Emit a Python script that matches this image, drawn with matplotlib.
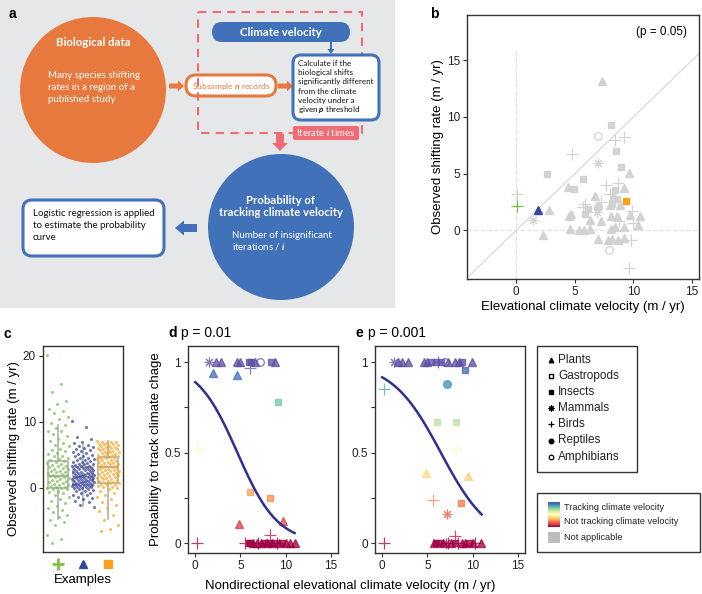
import numpy as np
import matplotlib.pyplot as plt
from matplotlib.patches import Rectangle, Circle, FancyBboxPatch, FancyArrow

plt.rcParams['font.family'] = ['Liberation Sans', 'DejaVu Sans']
plt.rcParams['mathtext.fontset'] = 'custom'
plt.rcParams['mathtext.rm'] = 'Lato'
plt.rcParams['mathtext.bf'] = 'Lato:italic:bold'

W, H = 702, 594

# ---------------- data ----------------
shape_codes = ['P', 'G', 'I', 'M', 'B', 'R', 'A']
shape_names = ['Plants', 'Gastropods', 'Insects', 'Mammals', 'Birds', 'Reptiles', 'Amphibians']

# panel b : grey points (observed vs climate velocity)
b_x = [7.3, 8.1, 7.0, 8.4, 9.2, 8.5, 4.8, 7.0, 8.95, 2.6, 9.6, 5.7, 7.7, 8.7, 4.4, 4.9,
       9.2, 8.45, 0.05, 8.0, 6.7, 8.3, 8.6, 8.0, 8.9, 5.9, 5.7, 7.0, 2.8, 4.7, 4.5, 5.9,
       6.3, 7.2, 8.07, 8.6, 9.7, 9.9, 10.6, 10.4, 9.95, 4.6, 5.4, 5.8, 6.3, 8.1, 8.45,
       9.2, 8.8, 7.0, 7.8, 8.15, 8.7, 9.2, 9.8, 2.3, 1.4, 7.95, 9.6, 6.9, 8.2, 7.2, 6.1]
b_y = [13.2, 9.3, 8.35, 8.0, 8.2, 7.0, 6.7, 5.9, 5.6, 5.0, 5.05, 4.5, 3.97, 4.2, 3.8, 3.6,
       3.7, 3.55, 3.2, 3.2, 3.0, 2.9, 2.8, 2.2, 2.2, 2.35, 2.06, 2.06, 1.76, 1.47, 1.24, 1.4,
       0.88, 0.82, 1.3, 1.24, 1.39, 1.7, 1.3, 0.44, 0.65, 0.15, 0.02, 0.05, 0.15, 0.15, 0.26,
       0.26, 0.8, -0.8, -0.9, -0.8, -0.9, -0.7, -0.9, -0.45, 0.94, -1.7, -3.3, 1.6, 2.35, 2.5, 1.9]
b_kind = ['P', 'I', 'A', 'B', 'B', 'I', 'B', 'M', 'I', 'I', 'P', 'I', 'B', 'B', 'P', 'I',
          'P', 'I', 'B', 'B', 'P', 'P', 'I', 'P', 'P', 'B', 'B', 'R', 'P', 'P', 'P', 'I',
          'P', 'P', 'P', 'P', 'P', 'B', 'P', 'P', 'B', 'P', 'P', 'P', 'P', 'P', 'P',
          'P', 'B', 'P', 'P', 'P', 'P', 'P', 'B', 'P', 'M', 'A', 'B', 'M', 'I', 'B', 'I']
ex_x = [0.1, 1.9, 9.4]
ex_y = [2.1, 1.78, 2.6]
ex_kind = ['B', 'P', 'I']
ex_colors = ['#7cc242', '#3547a0', '#f9a11b']

# panel c : shifting rates of the three examples
c_green = [20.2, 15.8, 14.5, 13.2, 12.7, 11.9, 11.6, 11.3, 10.8, 10.4, 9.9, 9.5, 9.1, 8.7, 8.6,
           8.2, 7.9, 7.4, 7.1, 6.8, 6.5, 6.3, 5.9, 5.7, 5.6, 5.3, 5.1, 4.9, 4.8, 4.6, 4.4, 4.3,
           4.1, 3.9, 3.8, 3.7, 3.5, 3.4, 3.3, 3.1, 3.0, 2.9, 2.8, 2.6, 2.5, 2.4, 2.35, 2.2, 2.1,
           2.0, 1.9, 1.85, 1.8, 1.7, 1.6, 1.5, 1.4, 1.2, 1.1, 1.0, 0.9, 0.8, 0.6, 0.5, 0.4, 0.3,
           0.2, 0.1, 0.05, 0.0, -0.1, -0.2, -0.4, -0.6, -0.8, -1.1, -1.4, -1.7, -2.0, -2.3,
           -2.7, -3.0, -3.3, -3.7, -4.1, -4.4, -4.8, -5.2, -5.6, -7.2, -7.7, -8.3]
c_blue = [10.1, 9.3, 7.7, 7.4, 7.0, 6.8, 6.5, 6.3, 6.2, 6.0, 5.9, 5.7, 5.6, 5.4, 5.3, 5.1, 5.0,
          4.9, 4.8, 4.6, 4.5, 4.4, 4.3, 4.2, 4.1, 4.0, 3.9, 3.8, 3.7, 3.65, 3.6, 3.5, 3.4, 3.3,
          3.25, 3.2, 3.1, 3.05, 3.0, 2.9, 2.85, 2.8, 2.7, 2.65, 2.6, 2.5, 2.45, 2.4, 2.3, 2.25,
          2.2, 2.15, 2.1, 2.05, 2.0, 1.95, 1.9, 1.85, 1.8, 1.75, 1.7, 1.65, 1.6, 1.55, 1.5,
          1.45, 1.4, 1.35, 1.3, 1.25, 1.2, 1.15, 1.1, 1.05, 1.0, 0.95, 0.9, 0.85, 0.8, 0.75,
          0.7, 0.65, 0.6, 0.55, 0.5, 0.45, 0.4, 0.35, 0.3, 0.25, 0.2, 0.15, 0.1, 0.05, 0.0,
          -0.1, -0.2, -0.3, -0.4, -0.5, -0.7, -0.8, -1.0, -1.1, -1.3, -1.5, -1.7, -1.9, -2.2,
          -2.6, -2.9]
c_orange = [7.1, 7.0, 6.95, 6.9, 6.8, 6.7, 6.65, 6.6, 6.5, 6.4, 6.3, 6.25, 6.2, 6.1, 6.0, 5.9,
            5.85, 5.8, 5.7, 5.6, 5.5, 5.45, 5.4, 5.3, 5.2, 5.1, 5.05, 5.0, 4.9, 4.8, 4.7, 4.6,
            4.55, 4.5, 4.4, 4.3, 4.2, 4.1, 4.0, 3.9, 3.85, 3.8, 3.7, 3.6, 3.5, 3.4, 3.3, 3.25,
            3.2, 3.1, 3.0, 2.9, 2.8, 2.75, 2.7, 2.6, 2.5, 2.4, 2.3, 2.2, 2.1, 2.05, 2.0, 1.9,
            1.8, 1.7, 1.6, 1.5, 1.45, 1.4, 1.3, 1.2, 1.1, 1.0, 0.9, 0.8, 0.75, 0.7, 0.6, 0.5,
            0.4, 0.3, 0.2, 0.1, 0.0, -0.2, -0.4, -0.7, -1.0, -1.3, -1.7, -2.1, -2.6, -3.0,
            -3.5, -4.1, -4.8, -5.6, -6.2, -6.5]
c_colors = ['#7cc35a', '#3b49a0', '#f9a825']
# box statistics as drawn
c_med = [1.85, 1.6, 3.1]
c_q1 = [0.0, 0.45, 0.7]
c_q3 = [4.1, 3.1, 4.75]
c_lo = [-4.65, -2.75, -4.65]
c_hi = [9.6, 6.45, 7.1]

# panel d : p = 0.01
d_x = [1.47, 2.3, 2.9, 4.6, 5.0, 5.9, 6.2, 6.6, 7.2, 8.4, 8.8, 6.07, 2.0, 4.6, 9.2, 0.18,
       6.07, 8.3, 4.85, 9.7, 0.18, 5.5, 5.9, 6.1, 6.4, 6.8, 7.0, 7.3, 7.6, 7.9, 8.0, 8.3,
       8.5, 8.7, 9.0, 9.3, 9.6, 10.0, 10.5, 11.0]
d_prob = [1.0, 1.0, 1.0, 1.0, 1.0, 1.0, 1.0, 1.0, 1.0, 1.0, 1.0, 0.97, 0.94, 0.93, 0.78,
          0.52, 0.28, 0.25, 0.105, 0.12, 0.0, 0.0, 0.0, 0.0, 0.0, 0.0, 0.0, 0.0, 0.0, 0.0,
          0.0, 0.045, 0.0, 0.0, 0.0, 0.0, 0.0, 0.0, 0.0, 0.0]
d_kind = ['M', 'P', 'P', 'P', 'P', 'I', 'I', 'P', 'A', 'I', 'P', 'B', 'P', 'P', 'I', 'B',
          'I', 'I', 'P', 'P', 'B', 'B', 'I', 'I', 'P', 'P', 'B', 'P', 'I', 'P', 'I', 'B',
          'P', 'I', 'B', 'P', 'I', 'P', 'P', 'P']
d_coef = (2.09, -0.448)

# panel e : p = 0.001
e_x = [1.25, 1.8, 2.2, 2.9, 4.6, 5.0, 5.4, 5.9, 6.2, 6.5, 6.9, 7.3, 8.05, 8.5, 8.8, 9.9,
       9.15, 7.13, 0.15, 6.03, 8.2, 8.16, 4.85, 9.5, 5.66, 8.7, 7.13, 0.15, 8.05, 5.7, 6.0,
       6.3, 6.7, 7.1, 7.3, 7.6, 8.0, 8.4, 8.8, 9.2, 9.6, 10.0, 10.3, 10.9]
e_prob = [1.0, 1.0, 1.0, 1.0, 1.0, 1.0, 1.0, 1.0, 1.0, 1.0, 1.0, 1.0, 1.0, 1.0, 1.0, 1.0,
          0.96, 0.88, 0.85, 0.67, 0.67, 0.52, 0.39, 0.37, 0.24, 0.22, 0.16, 0.0, 0.04, 0.0,
          0.0, 0.0, 0.0, 0.0, 0.0, 0.0, 0.0, 0.0, 0.0, 0.0, 0.0, 0.0, 0.0, 0.0]
e_kind = ['M', 'P', 'P', 'P', 'P', 'P', 'I', 'I', 'B', 'I', 'A', 'P', 'P', 'P', 'I', 'P',
          'I', 'R', 'B', 'I', 'I', 'B', 'P', 'P', 'B', 'I', 'M', 'B', 'B', 'P', 'I', 'I',
          'P', 'M', 'B', 'P', 'I', 'B', 'P', 'P', 'I', 'P', 'B', 'P']
e_coef = (2.4, -0.37)

# ---------------- helpers ----------------
def box(x0, y0, x1, y1):
    return [x0 / W, 1 - y1 / H, (x1 - x0) / W, (y1 - y0) / H]

def ftext(x, y, s, **kw):
    fig.text(x / W, 1 - y / H, s, **kw)

mk = {'P': dict(marker='^', ms=5.5), 'G': dict(marker='s', ms=5, mfc='none'),
      'I': dict(marker='s', ms=5), 'M': dict(marker=(8, 2, 0), ms=7, mew=0.8),
      'B': dict(marker='+', ms=8, mew=0.9), 'R': dict(marker='o', ms=5.5),
      'A': dict(marker='o', ms=5.5, mfc='none', mew=0.9)}

def point(ax, x, y, kind, color, alpha=1.0, scale=1.0, **kw):
    st = dict(mk[kind])
    st['ms'] = st['ms'] * scale
    if 'mfc' not in st:
        st['mfc'] = color
    st.update(kw.pop('extra', {}))
    ax.plot([x], [y], ls='none', mec=color, color=color, alpha=alpha, **st, **kw)

def style_axes(ax):
    for s in ax.spines.values():
        s.set_color('#333333')
        s.set_linewidth(1.0)
    ax.tick_params(direction='out', length=3, width=0.8, labelsize=8.5,
                   colors='#333333', labelcolor='#222222', pad=2)

fig = plt.figure(figsize=(W / 100, H / 100), dpi=100)

# ---------------- panel a (flow diagram) + legends ----------------
ov = fig.add_axes([0, 0, 1, 1])
ov.set_xlim(0, W)
ov.set_ylim(H, 0)
ov.axis('off')

orange = '#e8793e'
blue = '#4171b8'
pink = '#f06b73'
fa = ['Lato', 'DejaVu Sans']

ov.add_patch(Rectangle((0, 0), 395, 308, color='#e6e7e8', lw=0))
ov.add_patch(Circle((93, 90), 73, color=orange, lw=0))
ov.text(93, 43, 'Biological data', color='white', fontsize=8.2, fontweight='bold',
        ha='center', va='center', family=fa)
for k, line in enumerate(['Many species shifting', 'rates in a region of a', 'published study']):
    ov.text(48, 76 + 12 * k, line, color='white', fontsize=7.0, ha='left', va='center', family=fa)

ov.add_patch(FancyArrow(169, 86, 15, 0, width=5, head_width=11, head_length=6,
                        length_includes_head=True, color=orange, lw=0))
ov.add_patch(FancyArrow(278, 86, 15, 0, width=5, head_width=11, head_length=6,
                        length_includes_head=True, color=orange, lw=0))
ov.add_patch(FancyBboxPatch((186, 75), 90, 21, boxstyle='round,pad=0,rounding_size=10',
                            fc='white', ec=orange, lw=2.2))
ov.text(231, 86, r'Subsample $\mathbf{n}$ records', color=orange, fontsize=6.1,
        ha='center', va='center', family=fa)

ov.add_patch(Rectangle((198, 12), 164, 121, fill=False, ec=pink, lw=1.5, ls=(0, (4, 3))))
ov.add_patch(FancyBboxPatch((212, 22), 138, 20, boxstyle='round,pad=0,rounding_size=10',
                            fc=blue, lw=0))
ov.text(281, 32, 'Climate velocity', color='white', fontsize=8.2, fontweight='bold',
        ha='center', va='center', family=fa)
ov.add_patch(FancyArrow(331, 41, 0, 13, width=2, head_width=7, head_length=5,
                        length_includes_head=True, color=blue, lw=0))
ov.add_patch(FancyBboxPatch((293, 55), 86, 65, boxstyle='round,pad=0,rounding_size=8',
                            fc='white', ec=blue, lw=2.2))
calc = ['Calculate if the', 'biological shifts', 'significantly different',
        'from the climate', 'velocity under a', r'given $\mathbf{p}$ threshold']
for k, line in enumerate(calc):
    ov.text(298, 63.5 + 9.2 * k, line, color='#111111', fontsize=5.8, ha='left',
            va='center', family=fa)
ov.add_patch(FancyBboxPatch((293, 126), 66, 14, boxstyle='round,pad=0,rounding_size=2',
                            fc=pink, lw=0))
ov.text(326, 133, r'Iterate $\mathbf{i}$ times', color='white', fontsize=6.8,
        ha='center', va='center', family=fa)
ov.add_patch(FancyArrow(280, 134, 0, 17, width=8, head_width=16, head_length=8,
                        length_includes_head=True, color=pink, lw=0))

ov.add_patch(Circle((281, 227), 73, color=blue, lw=0))
ov.text(281, 200, 'Probability of', color='white', fontsize=8.2, fontweight='bold',
        ha='center', va='center', family=fa)
ov.text(281, 213, 'tracking climate velocity', color='white', fontsize=8.2, fontweight='bold',
        ha='center', va='center', family=fa)
ov.text(232, 235, 'Number of insignificant', color='white', fontsize=7.0, ha='left',
        va='center', family=fa)
ov.text(232, 247, r'iterations / $\mathbf{i}$', color='white', fontsize=7.0, ha='left',
        va='center', family=fa)
ov.add_patch(FancyArrow(197, 228, -22, 0, width=8, head_width=15, head_length=9,
                        length_includes_head=True, color=blue, lw=0))
ov.add_patch(FancyBboxPatch((23, 200), 141, 56, boxstyle='round,pad=0,rounding_size=9',
                            fc='white', ec=blue, lw=2.2))
for k, line in enumerate(['Logistic regression is applied', 'to estimate the probability', 'curve']):
    ov.text(33, 213 + 12.5 * k, line, color='#111111', fontsize=7.0, ha='left', va='center', family=fa)

# shape legend
ov.add_patch(Rectangle((537, 346), 100, 126, fill=False, ec='#333333', lw=1.0))
for k, (code, name) in enumerate(zip(shape_codes, shape_names)):
    yy = 360 + 16.1 * k
    point(ov, 551, yy, code, 'black', scale=0.6)
    ov.text(558, yy, name, fontsize=8.5, ha='left', va='center', color='#222222')

# colour legend
ov.add_patch(Rectangle((537, 493), 163, 59, fill=False, ec='#333333', lw=1.0))
grad = np.linspace(1, 0, 60)[:, None]
ov.imshow(grad, extent=[548, 560, 527, 502], cmap='Spectral', aspect='auto', vmin=0, vmax=1)
ov.add_patch(Rectangle((548, 532), 12, 11, color='#bdbdbd', lw=0))
ov.text(564, 507, 'Tracking climate velocity', fontsize=6.6, va='center', color='#222222')
ov.text(564, 522, 'Not tracking climate velocity', fontsize=6.6, va='center', color='#222222')
ov.text(564, 537, 'Not applicable', fontsize=6.6, va='center', color='#222222')
ov.set_xlim(0, W)
ov.set_ylim(H, 0)

# ---------------- panel b ----------------
ax_b = fig.add_axes(box(467, 15, 699, 279))
ax_b.set_xlim(-4.2, 15.6)
ax_b.set_ylim(-4.3, 19)
ax_b.plot([-5, 20], [-5, 20], color='#dadada', lw=0.9, zorder=1)
ax_b.axhline(0, color='#e2e2e2', ls='--', lw=0.9, zorder=1)
ax_b.plot([0, 0], [-5, 16], color='#e2e2e2', ls='--', lw=0.9, zorder=1)
for x, y, k in zip(b_x, b_y, b_kind):
    point(ax_b, x, y, k, '#d0d0d0', alpha=0.9, zorder=2)
for x, y, k, c in zip(ex_x, ex_y, ex_kind, ex_colors):
    point(ax_b, x, y, k, c, zorder=3)
ax_b.set_xticks([0, 5, 10, 15])
ax_b.set_yticks([0, 5, 10, 15])
style_axes(ax_b)
ax_b.set_xlabel('Elevational climate velocity (m / yr)', fontsize=9.5, labelpad=2)
ax_b.set_ylabel('Observed shifting rate (m / yr)', fontsize=9.5, labelpad=2)
ax_b.text(0.948, 0.936, '(p = 0.05)', transform=ax_b.transAxes, ha='right', va='center',
          fontsize=8.5)

# ---------------- panel c ----------------
ax_c = fig.add_axes(box(43, 346, 123, 552))
ax_c.set_xlim(-0.6, 2.6)
ax_c.set_ylim(-9.7, 21.5)
stats = []
for i in range(3):
    stats.append(dict(med=c_med[i], q1=c_q1[i], q3=c_q3[i], whislo=c_lo[i],
                      whishi=c_hi[i], fliers=[]))
ax_c.bxp(stats, positions=[0, 1, 2], widths=0.8, showcaps=False, patch_artist=False,
         boxprops=dict(color='#a8a8a8', lw=1.1), whiskerprops=dict(color='#a8a8a8', lw=1.1),
         medianprops=dict(color='#a8a8a8', lw=1.3), zorder=1)
for i, vals in enumerate([c_green, c_blue, c_orange]):
    n = len(vals)
    jit = ((np.arange(n) * 0.618034) % 1 - 0.5) * 0.9
    ax_c.plot(i + jit, vals, ls='none', marker='o', ms=2.2, color=c_colors[i],
              alpha=0.75, mew=0, zorder=2)
ax_c.set_xticks([0, 1, 2])
ax_c.set_xticklabels(['', '', ''])
ax_c.set_yticks([0, 10, 20])
style_axes(ax_c)
ax_c.tick_params(axis='x', length=0)
for x, k, c in zip([0, 1, 2], ex_kind, ex_colors):
    point(ax_c, x, -0.058, k, c, transform=ax_c.get_xaxis_transform(), clip_on=False,
          scale=1.05, extra=dict(mew=2.0) if k == 'B' else {})
ax_c.set_xlabel('Examples', fontsize=9.5, labelpad=14)
ax_c.set_ylabel('Observed shifting rate (m / yr)', fontsize=9.5, labelpad=2)

# ---------------- panels d, e ----------------
cmap = plt.get_cmap('Spectral')
curve_x = np.linspace(0, 11, 100)
for rect, xs, ps, ks, coef in [((188, 346, 338, 553), d_x, d_prob, d_kind, d_coef),
                               ((375, 346, 525, 553), e_x, e_prob, e_kind, e_coef)]:
    ax = fig.add_axes(box(*rect))
    ax.set_xlim(-0.8, 15.8)
    ax.set_ylim(-0.055, 1.09)
    for x, p, k in zip(xs, ps, ks):
        point(ax, x, p, k, cmap(p), alpha=0.75, zorder=2)
    ax.plot(curve_x, 1 / (1 + np.exp(-(coef[0] + coef[1] * curve_x))), color='#2e3192',
            lw=1.8, zorder=3)
    ax.set_xticks([0, 5, 10, 15])
    ax.set_yticks([0, 0.25, 0.5, 0.75, 1])
    ax.set_yticklabels(['0', '', '0.5', '', '1'])
    style_axes(ax)
    if rect[0] == 188:
        ax.set_ylabel('Probability to track climate chage', fontsize=9.5, labelpad=2)

ftext(350, 586, 'Nondirectional elevational climate velocity (m / yr)', fontsize=9.5,
      ha='center', va='center')

# panel letters
ftext(9, 14, 'a', fontsize=10, fontweight='bold', va='center')
ftext(430, 14, 'b', fontsize=10, fontweight='bold', va='center')
ftext(4, 334, 'c', fontsize=10, fontweight='bold', va='center')
ftext(168, 333, 'd', fontsize=10, fontweight='bold', va='center')
ftext(181, 333, 'p = 0.01', fontsize=10, va='center')
ftext(355, 333, 'e', fontsize=10, fontweight='bold', va='center')
ftext(368, 333, 'p = 0.001', fontsize=10, va='center')

fig.savefig('out.png', dpi=100)
